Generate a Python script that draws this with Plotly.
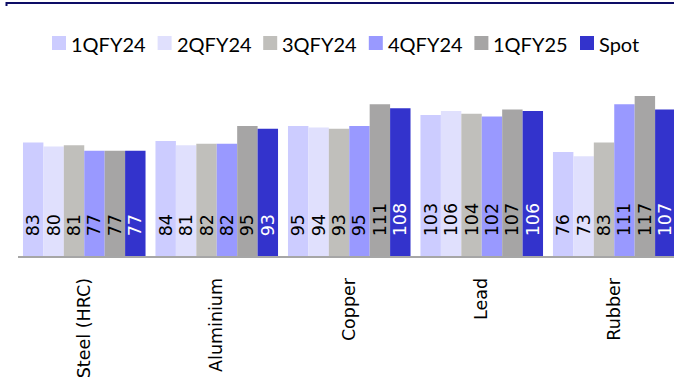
import plotly.graph_objects as go

# Commodity price index by quarter
categories = ["Steel (HRC)", "Aluminium", "Copper", "Lead", "Rubber"]
series_names = ["1QFY24", "2QFY24", "3QFY24", "4QFY24", "1QFY25", "Spot"]
q1fy24 = [83, 84, 95, 103, 76]
q2fy24 = [80, 81, 94, 106, 73]
q3fy24 = [81, 82, 93, 104, 83]
q4fy24 = [77, 82, 95, 102, 111]
q1fy25 = [77, 95, 111, 107, 117]
spot = [77, 93, 108, 106, 107]

series_values = [q1fy24, q2fy24, q3fy24, q4fy24, q1fy25, spot]
colors = ["#ccccff", "#e0e0fd", "#c0bfbb", "#9999ff", "#a6a5a5", "#3333cc"]
label_colors = ["#000000"] * 5 + ["#ffffff"]

W, H = 674, 382
ML, MR, MT, MB = 18, 0, 60, 126
plot_w = W - ML - MR
plot_h = H - MT - MB

fig = go.Figure()
for name, vals, col, tcol in zip(series_names, series_values, colors, label_colors):
    fig.add_trace(go.Bar(
        x=categories, y=vals, name=name,
        marker=dict(color=col, line=dict(width=0)),
        text=vals,
        texttemplate="\u00a0\u00a0\u00a0%{text}",
        textposition="inside",
        insidetextanchor="start",
        textangle=-90,
        constraintext="none",
        textfont=dict(family="DejaVu Sans", size=17.5, color=tcol),
        showlegend=False,
        hoverinfo="x+y+name",
    ))


def px_x(px):
    return (px - ML) / plot_w


def px_y(py):
    return (H - MB - py) / plot_h


# Legend row: colour swatch followed by the series name
shapes = []
annotations = []
leg_x0, leg_pitch, sw = 52, 105.6, 14
for i, (name, col) in enumerate(zip(series_names, colors)):
    x0 = leg_x0 + i * leg_pitch
    shapes.append(dict(type="rect", xref="paper", yref="paper",
                       x0=px_x(x0), x1=px_x(x0 + sw),
                       y0=px_y(50), y1=px_y(36),
                       fillcolor=col, line=dict(width=0)))
    annotations.append(dict(xref="paper", yref="paper",
                            x=px_x(x0 + sw + 3), y=px_y(43.5),
                            xanchor="left", yanchor="middle",
                            text=name, showarrow=False,
                            font=dict(family="Lato", size=20, color="#000000")))

# Top rule
shapes.append(dict(type="path", xref="paper", yref="paper",
                   path=f"M {px_x(6.5)},{px_y(6)} L {px_x(6.5)},{px_y(3)} L {px_x(W)},{px_y(3)}",
                   line=dict(color="#0d0d66", width=2)))

fig.update_layout(
    width=W, height=H,
    margin=dict(l=ML, r=MR, t=MT, b=MB, pad=0),
    paper_bgcolor="#ffffff", plot_bgcolor="#ffffff",
    barmode="group", bargap=0.075, bargroupgap=0,
    shapes=shapes, annotations=annotations,
    xaxis=dict(
        range=[-0.5, 4.451],
        showline=True, linecolor="#a6a6a6", linewidth=2,
        showgrid=False, zeroline=False, ticks="",
        tickangle=-90, ticklabelstandoff=13,
        tickfont=dict(family="DejaVu Sans", size=17.5, color="#000000"),
    ),
    yaxis=dict(range=[0, plot_h / 1.368], visible=False, showgrid=False, zeroline=False),
)

fig.write_html("out.html")
